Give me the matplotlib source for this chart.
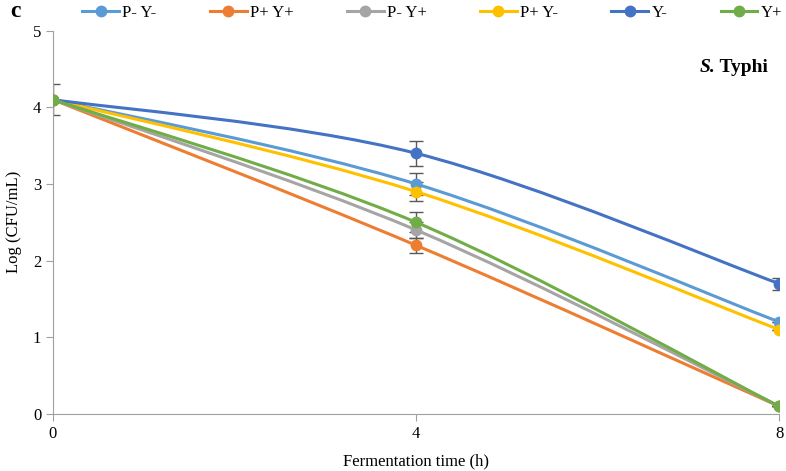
import matplotlib.pyplot as plt
import numpy as np
from matplotlib.path import Path
from matplotlib.patches import PathPatch
from matplotlib.lines import Line2D

plt.rcParams['font.family'] = ['Liberation Serif', 'DejaVu Serif']

# Data
hours = [0, 4, 8]
labels = ['P- Y-', 'P+ Y+', 'P- Y+', 'P+ Y-', 'Y-', 'Y+']
colors = ['#5B9BD5', '#ED7D31', '#A5A5A5', '#FFC000', '#4472C4', '#70AD47']
p_neg_y_neg = [4.1, 3.0, 1.2]
p_pos_y_pos = [4.1, 2.2, 0.1]
p_neg_y_pos = [4.1, 2.4, 0.1]
p_pos_y_neg = [4.1, 2.9, 1.1]
y_neg = [4.1, 3.4, 1.7]
y_pos = [4.1, 2.5, 0.1]
err_p_neg_y_neg = [0.0, 0.14, 0.0]
err_p_pos_y_pos = [0.0, 0.10, 0.0]
err_p_neg_y_pos = [0.0, 0.10, 0.0]
err_p_pos_y_neg = [0.0, 0.12, 0.0]
err_y_neg = [0.2, 0.16, 0.08]
err_y_pos = [0.0, 0.13, 0.0]

series = [p_neg_y_neg, p_pos_y_pos, p_neg_y_pos, p_pos_y_neg, y_neg, y_pos]
errors = [err_p_neg_y_neg, err_p_pos_y_pos, err_p_neg_y_pos, err_p_pos_y_neg, err_y_neg, err_y_pos]


def smooth_path(xs, ys):
    # Excel-like smoothed line as cubic Bezier segments
    pts = np.column_stack([xs, ys]).astype(float)
    n = len(pts)
    verts = [pts[0]]
    codes = [Path.MOVETO]
    for i in range(n - 1):
        p0 = pts[i - 1] if i > 0 else pts[i]
        p1 = pts[i]
        p2 = pts[i + 1]
        p3 = pts[i + 2] if i + 2 < n else pts[i + 1]
        c1 = p1 + (p2 - p0) / 6.0
        c2 = p2 - (p3 - p1) / 6.0
        verts += [c1, c2, p2]
        codes += [Path.CURVE4] * 3
    return Path(verts, codes)


fig = plt.figure(figsize=(7.86, 4.71), dpi=100)
ax = fig.add_axes([0.0674, 0.121, 0.924, 0.814])

for vals, errs, col in zip(series, errors, colors):
    ax.errorbar(hours, vals, yerr=errs, fmt='none', ecolor='#595959',
                elinewidth=1, capsize=5, capthick=1, zorder=2)

handles = []
for vals, col, lab in zip(series, colors, labels):
    ax.add_patch(PathPatch(smooth_path(hours, vals), facecolor='none',
                           edgecolor=col, lw=2.2, zorder=3))
    ax.plot(hours, vals, 'o', color=col, ms=7.5, zorder=4)
    handles.append(Line2D([0], [0], color=col, lw=2.2, marker='o', ms=7.5, label=lab))

ax.set_xlim(0, 8)
ax.set_ylim(0, 5)
ax.set_xticks([0, 4, 8])
ax.set_yticks([0, 1, 2, 3, 4, 5])
ax.tick_params(labelsize=12, color='#A0A0A0', length=5)
for s in ['top', 'right']:
    ax.spines[s].set_visible(False)
for s in ['left', 'bottom']:
    ax.spines[s].set_color('#A0A0A0')

ax.set_xlabel('Fermentation time (h)', fontsize=12, labelpad=8)
ax.set_ylabel('Log (CFU/mL)', fontsize=12, labelpad=8)

t1 = ax.text(0.89, 0.905, 'S.', transform=ax.transAxes, ha='left', va='center',
             fontsize=14, fontweight='bold', fontstyle='italic')
ax.annotate(' Typhi', xy=(1, 0), xycoords=t1, ha='left', va='bottom',
            fontsize=14, fontweight='bold')
fig.text(0.013, 0.975, 'c', fontsize=17, fontweight='bold', ha='left', va='center')

fig.legend(handles=handles, loc='center', bbox_to_anchor=(0.55, 0.972), ncol=6,
           frameon=False, fontsize=12, handlelength=2.2, handletextpad=0.2,
           columnspacing=3.2)

fig.savefig('out.png', dpi=100)
